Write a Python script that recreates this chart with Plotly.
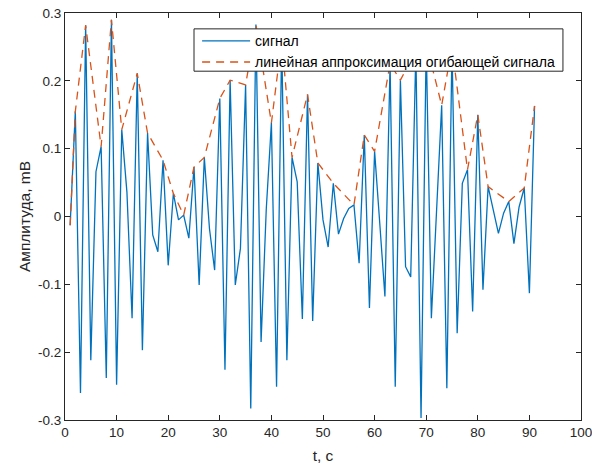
import plotly.graph_objects as go

# signal samples, t = 1..91 s
t = list(range(1, 92))
signal = [-0.013, 0.155, -0.26, 0.282, -0.212, 0.066, 0.103, -0.238, 0.29, -0.248,
          0.128, 0.036, -0.150, 0.211, -0.197, 0.123, -0.027, -0.052, 0.083, -0.072,
          0.034, -0.005, 0.002, -0.032, 0.073, -0.101, 0.087, -0.018, -0.079, 0.174,
          -0.226, 0.201, -0.101, -0.047, 0.194, -0.283, 0.283, -0.185, 0.01, 0.138,
          -0.251, 0.26, -0.212, 0.087, 0.051, -0.151, 0.18, -0.154, 0.079, -0.005,
          -0.045, 0.049, -0.026, -0.003, 0.012, 0.017, -0.069, 0.120, -0.135, 0.096,
          -0.01, -0.118, 0.225, -0.251, 0.201, -0.074, -0.089, 0.245, -0.297, 0.255,
          -0.150, 0.005, 0.164, -0.253, 0.25, -0.172, 0.049, 0.069, -0.140, 0.150,
          -0.108, 0.044, 0.010, -0.025, 0.005, 0.022, -0.040, 0.014, 0.042, -0.113,
          0.163]

# envelope (local maxima of the signal)
env_t = [1, 2, 4, 7, 9, 11, 14, 16, 19, 21, 23, 25, 27, 30, 32, 35, 37, 40, 42,
         44, 47, 49, 52, 56, 58, 60, 63, 65, 68, 70, 73, 75, 78, 80, 82, 86, 89, 91]
env_v = [-0.013, 0.155, 0.282, 0.103, 0.29, 0.128, 0.211, 0.123, 0.083, 0.034,
         0.002, 0.073, 0.087, 0.174, 0.201, 0.194, 0.283, 0.138, 0.26, 0.087,
         0.18, 0.079, 0.049, 0.017, 0.120, 0.096, 0.225, 0.201, 0.245, 0.255,
         0.164, 0.25, 0.069, 0.150, 0.044, 0.022, 0.042, 0.163]

x_ticks = list(range(0, 101, 10))
y_ticks = [-0.3, -0.2, -0.1, 0, 0.1, 0.2, 0.3]
y_labels = ['-0.3', '-0.2', '-0.1', '0', '0.1', '0.2', '0.3']

fig = go.Figure()
fig.add_trace(go.Scatter(x=t, y=signal, mode='lines', name='сигнал',
                         line=dict(color='#0072BD', width=1.3)))
fig.add_trace(go.Scatter(x=env_t, y=env_v, mode='lines',
                         name='линейная аппроксимация огибающей сигнала',
                         line=dict(color='#D95319', width=1.3, dash='8px,6px')))

axis_style = dict(showline=True, linecolor='#262626', linewidth=1, mirror='allticks',
                  ticks='inside', ticklen=5, tickcolor='#262626', showgrid=False,
                  zeroline=False, automargin=False, ticklabeloverflow='allow',
                  tickfont=dict(size=13.5, color='#262626'))

fig.update_xaxes(range=[0, 100], tickvals=x_ticks, title=dict(text='t, c', standoff=10,
                 font=dict(size=15.5, color='#262626')), **axis_style)
fig.update_yaxes(range=[-0.3, 0.3], tickvals=y_ticks, ticktext=y_labels,
                 title=dict(text='Амплитуда, mB', standoff=3,
                            font=dict(size=15.5, color='#262626')), **axis_style)

# legend box like matlab (white box over the lines, legend text on top)
fig.add_shape(type='rect', xref='paper', yref='paper', x0=0.25, x1=0.965, y0=0.857, y1=0.961,
              fillcolor='white', line=dict(color='#262626', width=1), layer='above')

fig.update_layout(
    width=592, height=468,
    margin=dict(l=65, r=11, t=13, b=48),
    plot_bgcolor='white', paper_bgcolor='white',
    font=dict(family='Liberation Sans, Arial, sans-serif', color='#262626'),
    legend=dict(x=0.256, y=0.97, xanchor='left', yanchor='top',
                bgcolor='rgba(0,0,0,0)', borderwidth=0,
                font=dict(size=14, color='#000000'), itemwidth=48,
                tracegroupgap=0),
)

fig.write_html("out.html", config={'displayModeBar': False},
               post_script="document.body.style.margin='0';")
